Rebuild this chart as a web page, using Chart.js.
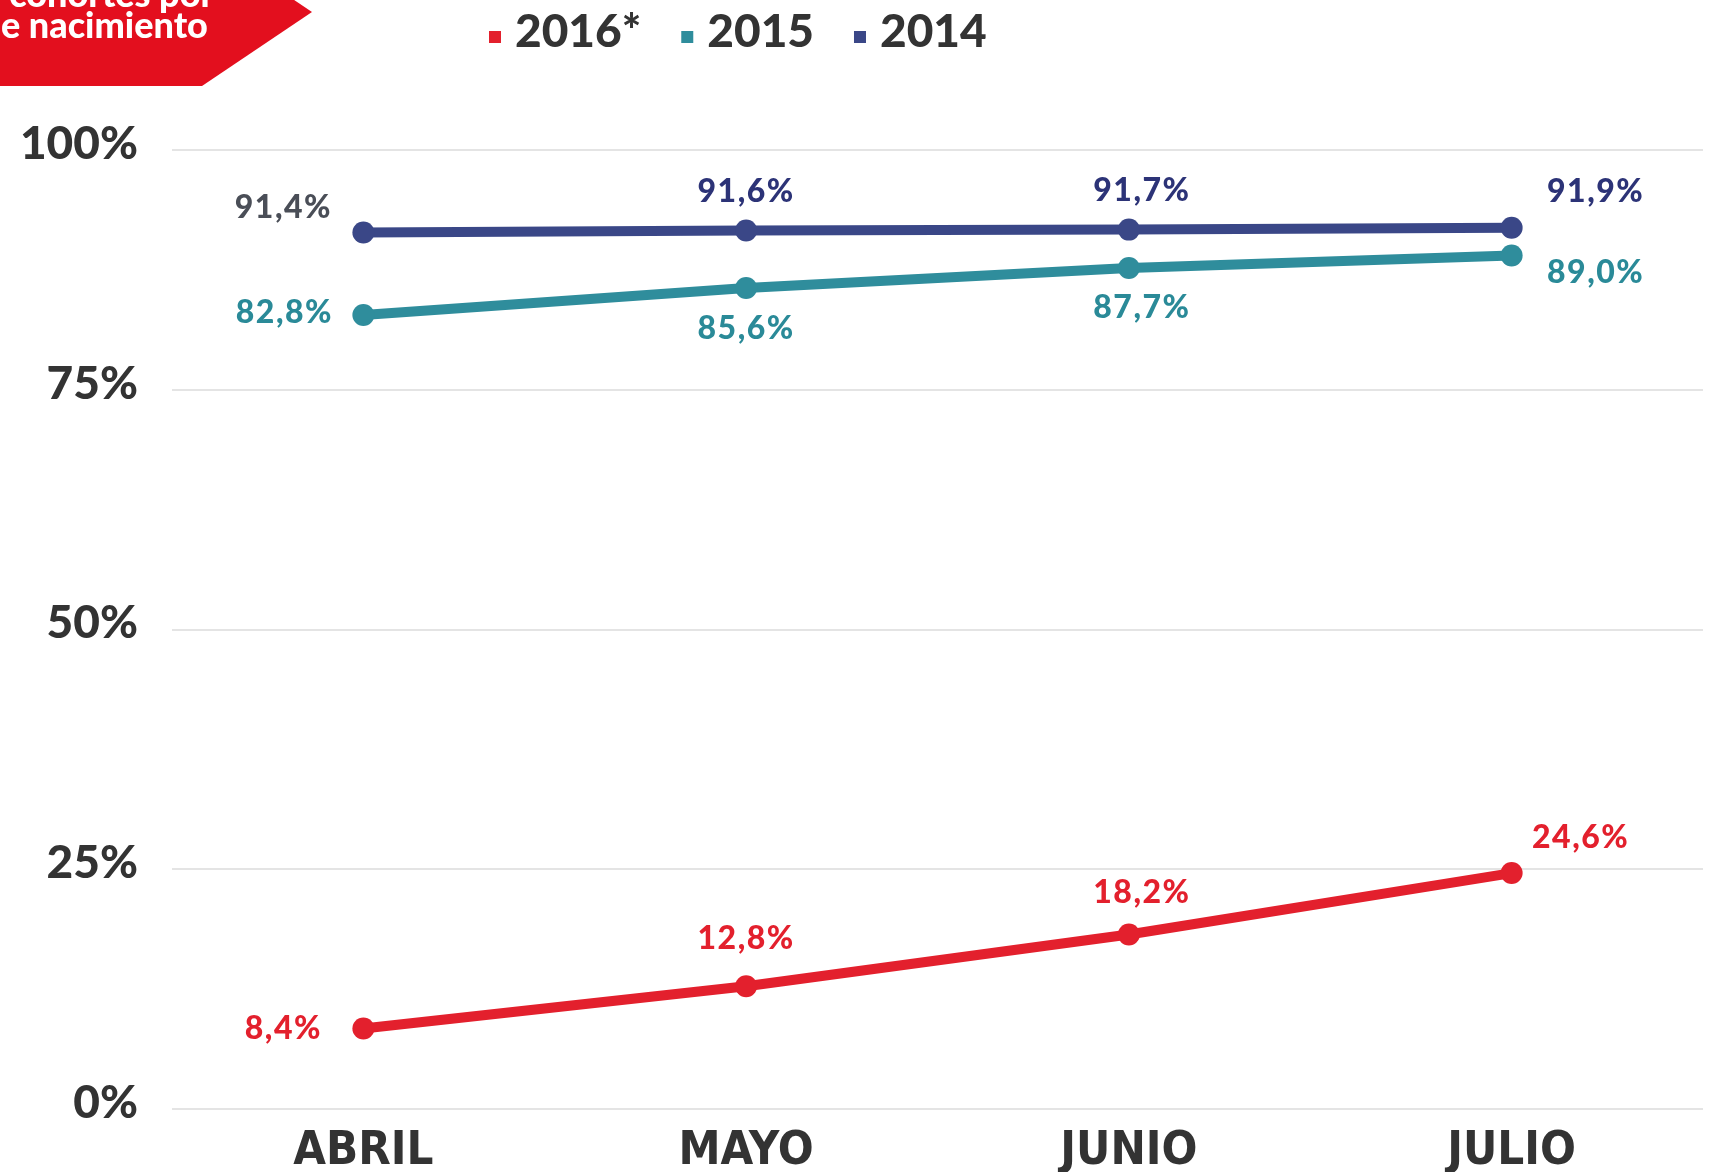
<!DOCTYPE html>
<html>
<head>
<meta charset="utf-8">
<script src="https://cdn.jsdelivr.net/npm/chart.js@4"></script>
<style>
  html, body { margin: 0; padding: 0; background: #fff; }
  #wrap { width: 1714px; height: 1172px; }
</style>
</head>
<body>
<div id="wrap"><canvas id="cohortChart" width="1714" height="1172"></canvas></div>
<script>
const categories = ['ABRIL', 'MAYO', 'JUNIO', 'JULIO'];
const seriesNames = ['2016*', '2015', '2014'];
const values2016 = [8.4, 12.8, 18.2, 24.6];
const values2015 = [82.8, 85.6, 87.7, 89.0];
const values2014 = [91.4, 91.6, 91.7, 91.9];
const yTicks = [0, 25, 50, 75, 100];

const RED = '#e3202d';
const TEAL = '#2f8d9c';
const NAVY = '#3a4787';
const TEXT = '#333333';

// label placement around each point (dx, dy in px)
const labelOffsets = [
  [[-80, 0], [0, -48], [13, -42], [69, -35]],
  [[-79, -2], [0, 41], [13, 40], [84, 17]],
  [[-80, -25], [0, -39], [13, -39], [84, -36]]
];
const labelColors = [
  [RED, RED, RED, RED],
  ['#2a8a98', '#2a8a98', '#2a8a98', '#2a8a98'],
  ['#4a4e57', '#2c3377', '#2c3377', '#2c3377']
];

const fmt = v => v.toFixed(1).replace('.', ',') + '%';

const bannerPlugin = {
  id: 'banner',
  afterDraw(chart) {
    const ctx = chart.ctx;
    ctx.save();
    ctx.fillStyle = '#e30f1e';
    ctx.beginPath();
    ctx.moveTo(0, -62);
    ctx.lineTo(202, -62);
    ctx.lineTo(312, 12);
    ctx.lineTo(202, 86);
    ctx.lineTo(0, 86);
    ctx.closePath();
    ctx.fill();
    ctx.fillStyle = '#fff';
    ctx.font = '900 36px Lato';
    ctx.textBaseline = 'alphabetic';
    ctx.textAlign = 'right';
    ctx.fillText('cohortes por', 214, 7);
    ctx.textAlign = 'left';
    const dw = ctx.measureText('d').width;
    ctx.fillText('de nacimiento', 1 - dw, 38);
    ctx.restore();
  }
};

const legendPlugin = {
  id: 'customLegend',
  afterDraw(chart) {
    const ctx = chart.ctx;
    ctx.save();
    ctx.font = '900 46px Lato';
    ctx.textBaseline = 'alphabetic';
    ctx.textAlign = 'left';
    let x = 489;
    chart.data.datasets.forEach(ds => {
      ctx.fillStyle = ds.borderColor;
      ctx.fillRect(x, 31, 12, 12);
      x += 12 + 14;
      ctx.fillStyle = TEXT;
      ctx.fillText(ds.label, x, 47);
      x += ctx.measureText(ds.label).width + 40;
    });
    ctx.restore();
  }
};

const valueLabels = {
  id: 'valueLabels',
  afterDatasetsDraw(chart) {
    const ctx = chart.ctx;
    ctx.save();
    ctx.font = '900 32px Lato';
    ctx.letterSpacing = '1.5px';
    ctx.textAlign = 'center';
    ctx.textBaseline = 'middle';
    chart.data.datasets.forEach((ds, di) => {
      const meta = chart.getDatasetMeta(di);
      meta.data.forEach((pt, i) => {
        const off = labelOffsets[di][i];
        ctx.fillStyle = labelColors[di][i];
        ctx.fillText(fmt(ds.data[i]), pt.x + off[0], pt.y + off[1]);
      });
    });
    ctx.restore();
  }
};

function makeDataset(label, data, color) {
  return {
    label: label,
    data: data,
    borderColor: color,
    backgroundColor: color,
    borderWidth: 10,
    pointRadius: 11,
    pointHoverRadius: 11,
    pointBorderWidth: 0,
    pointBackgroundColor: color,
    tension: 0,
    fill: false
  };
}

const ctx = document.getElementById('cohortChart').getContext('2d');
new Chart(ctx, {
  type: 'line',
  data: {
    labels: categories,
    datasets: [
      makeDataset(seriesNames[0], values2016, RED),
      makeDataset(seriesNames[1], values2015, TEAL),
      makeDataset(seriesNames[2], values2014, NAVY)
    ]
  },
  options: {
    responsive: false,
    animation: false,
    devicePixelRatio: 1,
    layout: { padding: { top: 150, left: 0, right: 7, bottom: 0 } },
    plugins: {
      legend: { display: false },
      tooltip: { enabled: false },
      title: { display: false }
    },
    scales: {
      x: {
        offset: true,
        grid: { display: false, drawTicks: false },
        border: { display: false },
        ticks: {
          color: TEXT,
          padding: 15,
          font: { family: "'Liberation Sans Narrow', 'DejaVu Sans Condensed', sans-serif", weight: 'bold', size: 47 }
        },
        afterFit(scale) { scale.height = 63; }
      },
      y: {
        min: 0,
        max: 100,
        afterBuildTicks(scale) { scale.ticks = yTicks.map(v => ({ value: v })); },
        grid: { color: '#e4e4e4', lineWidth: 2, drawTicks: false },
        border: { display: false },
        ticks: {
          color: TEXT,
          padding: 34,
          labelOffset: -6,
          font: { family: 'Lato', weight: '900', size: 46 },
          callback: v => v + '%'
        },
        afterFit(scale) { scale.width = 172; }
      }
    }
  },
  plugins: [valueLabels, legendPlugin, bannerPlugin]
});
</script>
</body>
</html>
